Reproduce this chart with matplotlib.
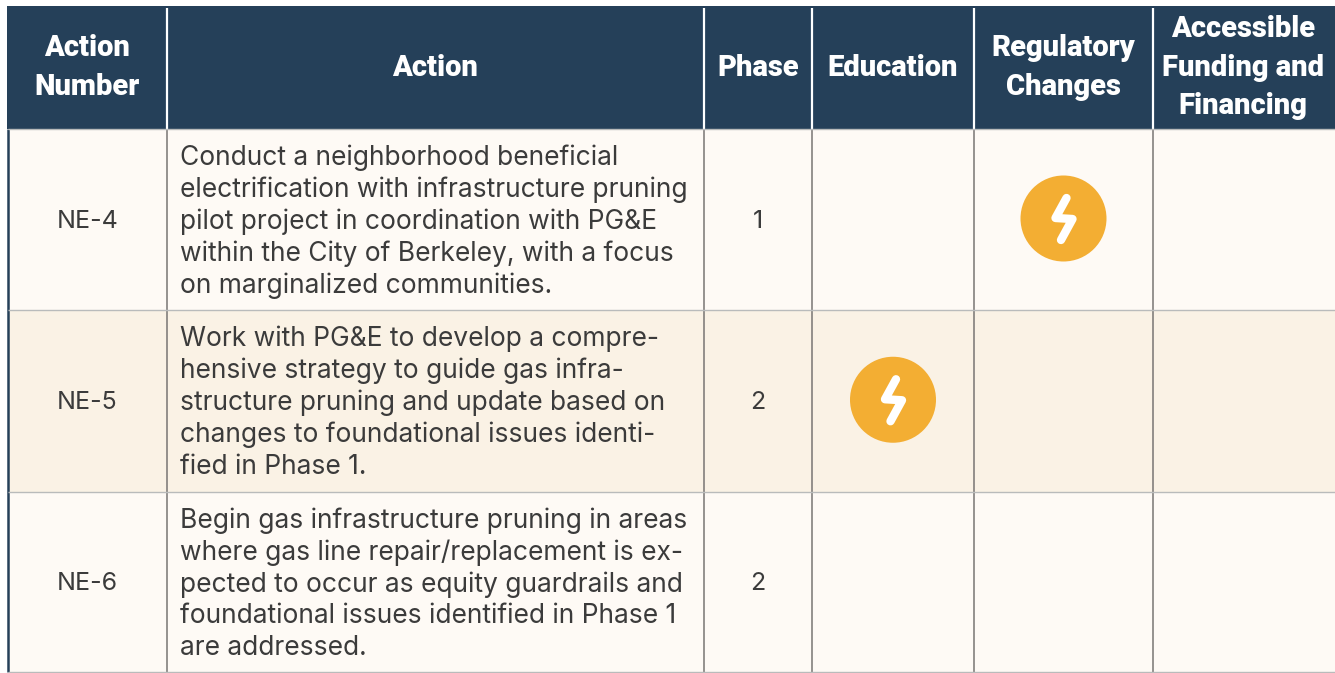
#!/usr/bin/env python3
import matplotlib
matplotlib.use("Agg")
import matplotlib.pyplot as plt
from matplotlib.patches import Rectangle, Circle

headers = ["Action\nNumber", "Action", "Phase", "Education", "Regulatory\nChanges",
           "Accessible\nFunding and\nFinancing"]
action_numbers = ["NE-4", "NE-5", "NE-6"]
actions = [
    ["Conduct a neighborhood beneficial", "electrification with infrastructure pruning",
     "pilot project in coordination with PG&E", "within the City of Berkeley, with a focus",
     "on marginalized communities."],
    ["Work with PG&E to develop a compre-", "hensive strategy to guide gas infra-",
     "structure pruning and update based on", "changes to foundational issues identi-",
     "fied in Phase 1."],
    ["Begin gas infrastructure pruning in areas", "where gas line repair/replacement is ex-",
     "pected to occur as equity guardrails and", "foundational issues identified in Phase 1",
     "are addressed."],
]
phases = ["1", "2", "2"]
# which column carries the lightning icon in each row (None = empty)
icon_col = [4, 3, None]

col_edges = [8, 167, 704, 812, 974, 1153, 1335]
row_edges = [6, 129, 310, 491.5, 672]

NAVY = "#254059"
CREAM = "#fefaf5"
TAN = "#faf2e5"
ORANGE = "#f3ae33"
GRID = "#787573"
TEXT = "#3b3b3b"

plt.rcParams["font.family"] = ["Inter", "DejaVu Sans"]

fig = plt.figure(figsize=(13.35, 6.73), dpi=100)
ax = fig.add_axes([0, 0, 1, 1])
ax.set_xlim(0, 1335)
ax.set_ylim(673, 0)
ax.axis("off")

# ---- backgrounds ----
ax.add_patch(Rectangle((7, row_edges[0]), 1328, row_edges[1] - row_edges[0], color=NAVY, lw=0))
for i in range(3):
    c = TAN if i == 1 else CREAM
    ax.add_patch(Rectangle((8, row_edges[i + 1]), 1327, row_edges[i + 2] - row_edges[i + 1], color=c, lw=0))

# ---- grid lines ----
ax.plot([8, 8], [129, 672], color=NAVY, lw=1.8, solid_capstyle="butt")
for x in col_edges[1:-1]:
    ax.plot([x, x], [8, 129], color="white", lw=1.6, solid_capstyle="butt")
    ax.plot([x, x], [129, 673], color=GRID, lw=1.1, solid_capstyle="butt")
for y in row_edges[1:]:
    ax.plot([8, 1335], [y, y], color="#b9bbbb", lw=1.0, solid_capstyle="butt")

# ---- header ----
for j, h in enumerate(headers):
    xc = (col_edges[j] + col_edges[j + 1]) / 2 - (1 if j == 5 else 0)
    lines = h.split("\n")
    yc = 65 - (len(lines) - 1) * 19.5
    for k, line in enumerate(lines):
        ax.text(xc, yc + k * 38.5, line, color="white", fontsize=21, fontweight=900,
                family=["Roboto", "DejaVu Sans"], ha="center", va="center_baseline")

# ---- body ----
for i in range(3):
    yc = (row_edges[i + 1] + row_edges[i + 2]) / 2 - 0.5
    ax.text((col_edges[0] + col_edges[1]) / 2, yc, action_numbers[i], color=TEXT, fontsize=18,
            ha="center", va="center_baseline")
    ax.text((col_edges[2] + col_edges[3]) / 2, yc, phases[i], color=TEXT, fontsize=18,
            ha="center", va="center_baseline")
    for k, line in enumerate(actions[i]):
        ax.text(180.5, yc + (k - 2) * 32, line, color=TEXT, fontsize=19,
                ha="left", va="center_baseline")
    if icon_col[i] is not None:
        cx = (col_edges[icon_col[i]] + col_edges[icon_col[i] + 1]) / 2
        ax.add_patch(Circle((cx, yc - 0.5), 43, color=ORANGE, lw=0))
        # lightning bolt, offsets from the circle centre
        ax.plot([cx + 3, cx - 8, cx + 9, cx - 2.5], [yc - 21, yc - 1, yc, yc + 21],
                color="white", lw=6, solid_capstyle="round", solid_joinstyle="round")

fig.savefig("out.png", dpi=100)
